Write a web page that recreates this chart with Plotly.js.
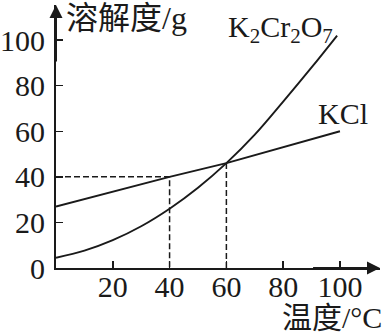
<!DOCTYPE html>
<html>
<head>
<meta charset="utf-8">
<script src="https://cdn.plot.ly/plotly-3.0.1.min.js"></script>
<style>html,body{margin:0;padding:0;background:#fff;}#chart{width:392px;height:335px;}</style>
</head>
<body>
<div id="chart"></div>
<script>
// Data
const tempK2Cr2O7 = [0, 10, 20, 30, 40, 50, 60, 70, 80, 90, 99];
const solK2Cr2O7  = [4.5, 7.6, 12.2, 18.3, 26, 35.2, 46, 58.5, 73, 88, 102];
const tempKCl = [0, 20, 40, 60, 80, 100];
const solKCl  = [27, 33.5, 40, 46, 53, 60];
const xTicks = [20, 40, 60, 80, 100];
const yTicks = [0, 20, 40, 60, 80, 100];
const guide40x = [0, 40, 40];
const guide40y = [40, 40, 0];
const guide60x = [60, 60];
const guide60y = [0, 46];

const serif = 'Liberation Serif, Times New Roman, serif';
const cjk = 'Liberation Serif, Noto Sans CJK SC, serif';
const ink = '#1a1a1a';
const xMax = 114.1, yMax = 115.4;

const traces = [
  {x: tempK2Cr2O7, y: solK2Cr2O7, mode: 'lines', line: {color: ink, width: 1.9, shape: 'spline', smoothing: 1}, hoverinfo: 'skip'},
  {x: tempKCl, y: solKCl, mode: 'lines', line: {color: ink, width: 1.9}, hoverinfo: 'skip'},
  {x: guide40x, y: guide40y, mode: 'lines', line: {color: ink, width: 1.5, dash: '6px,3px'}, hoverinfo: 'skip'},
  {x: guide60x, y: guide60y, mode: 'lines', line: {color: ink, width: 1.5, dash: '6px,3px'}, hoverinfo: 'skip'}
];

const layout = {
  width: 392, height: 335,
  margin: {l: 56, r: 12, t: 5, b: 67},
  paper_bgcolor: '#fff', plot_bgcolor: '#fff',
  showlegend: false,
  xaxis: {
    range: [0, xMax], tickvals: xTicks, ticktext: xTicks.map(String),
    ticks: 'inside', ticklen: 7, tickwidth: 1.5, tickcolor: ink,
    showline: true, linecolor: ink, linewidth: 2,
    showgrid: false, zeroline: false,
    tickfont: {family: serif, size: 30, color: ink}, ticklabelstandoff: -9
  },
  yaxis: {
    range: [0, yMax], tickvals: yTicks, ticktext: yTicks.map(String),
    ticks: 'inside', ticklen: 7, tickwidth: 1.5, tickcolor: ink,
    showline: true, linecolor: ink, linewidth: 2,
    showgrid: false, zeroline: false,
    tickfont: {family: serif, size: 30, color: ink}, ticklabelstandoff: 3
  },
  annotations: [
    {x: xMax, y: 0, ax: 90, ay: 0, axref: 'x', ayref: 'y', xref: 'x', yref: 'y', text: '',
     showarrow: true, arrowhead: 2, arrowsize: 1.3, arrowwidth: 2, arrowcolor: ink},
    {x: 0, y: yMax, ax: 0, ay: 90, axref: 'x', ayref: 'y', xref: 'x', yref: 'y', text: '',
     showarrow: true, arrowhead: 2, arrowsize: 1.3, arrowwidth: 2, arrowcolor: ink},
    {x: 0.025, y: 0.95, xref: 'paper', yref: 'paper', xanchor: 'left', yanchor: 'middle', showarrow: false,
     text: '溶解度/g', font: {family: cjk, size: 32, color: ink}},
    {x: 1.012, y: -0.19, xref: 'paper', yref: 'paper', xanchor: 'right', yanchor: 'middle', showarrow: false,
     text: '温度/°C', font: {family: cjk, size: 30, color: ink}},
    {x: 79, y: 104.8, xref: 'x', yref: 'y', xanchor: 'center', yanchor: 'middle', showarrow: false,
     text: 'K<sub>2</sub>Cr<sub>2</sub>O<sub>7</sub>', font: {family: serif, size: 30, color: ink}},
    {x: 101, y: 68, xref: 'x', yref: 'y', xanchor: 'center', yanchor: 'middle', showarrow: false,
     text: 'KCl', font: {family: serif, size: 30, color: ink}}
  ]
};

Plotly.newPlot('chart', traces, layout, {staticPlot: true, displayModeBar: false});
</script>
</body>
</html>
